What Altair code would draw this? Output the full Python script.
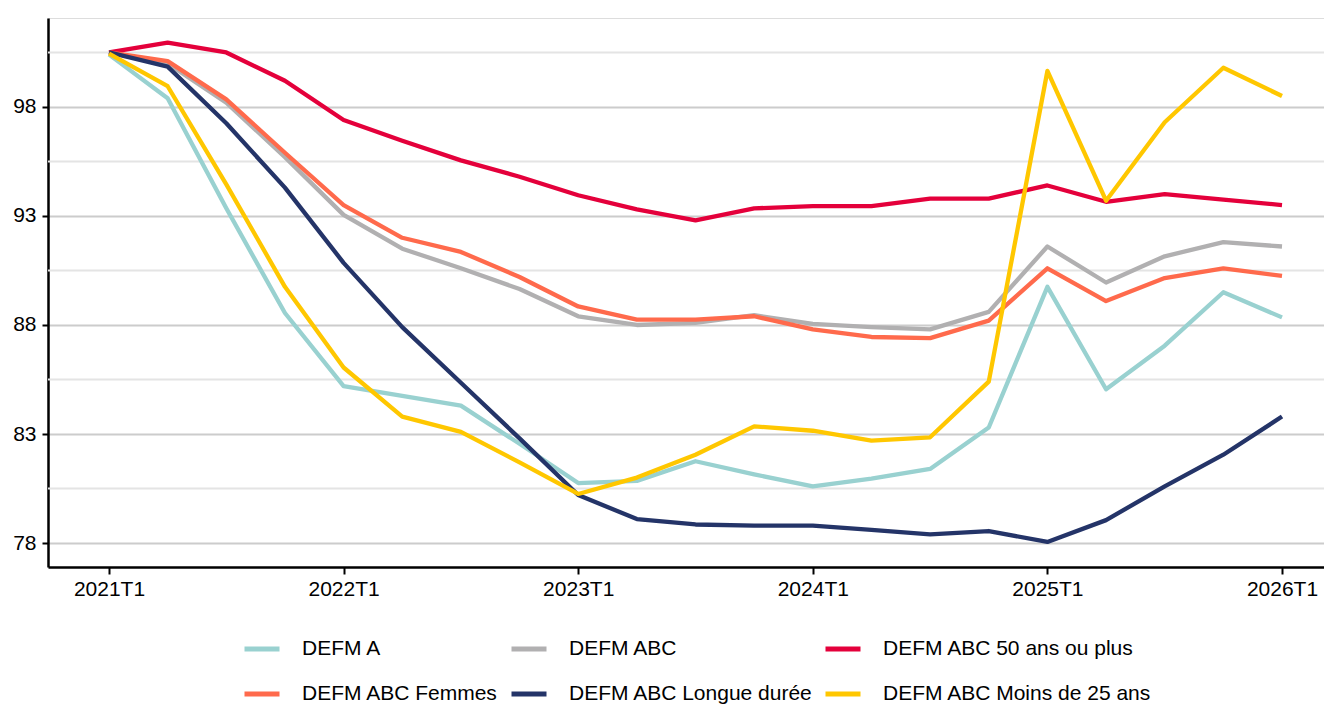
import altair as alt
import pandas as pd

quarters = ["2021T1", "2021T2", "2021T3", "2021T4",
            "2022T1", "2022T2", "2022T3", "2022T4",
            "2023T1", "2023T2", "2023T3", "2023T4",
            "2024T1", "2024T2", "2024T3", "2024T4",
            "2025T1", "2025T2", "2025T3", "2025T4",
            "2026T1"]

defm_a = [100.4, 98.4, 93.35, 88.55, 85.2, 84.75, 84.3, 82.55, 80.75, 80.85, 81.75,
          81.15, 80.6, 80.95, 81.4, 83.3, 89.75, 85.05, 87.05, 89.5, 88.35]
defm_abc = [100.5, 100.0, 98.2, 95.7, 93.05, 91.5, 90.6, 89.65, 88.4, 88.0, 88.1,
            88.45, 88.05, 87.9, 87.8, 88.6, 91.6, 89.95, 91.15, 91.8, 91.6]
defm_50 = [100.5, 100.95, 100.5, 99.2, 97.4, 96.45, 95.55, 94.8, 93.95, 93.3, 92.8,
           93.35, 93.45, 93.45, 93.8, 93.8, 94.4, 93.65, 94.0, 93.75, 93.5]
defm_femmes = [100.5, 100.1, 98.35, 95.9, 93.5, 92.0, 91.35, 90.2, 88.85, 88.25, 88.25,
               88.4, 87.8, 87.45, 87.4, 88.2, 90.6, 89.1, 90.15, 90.6, 90.25]
defm_longue = [100.5, 99.85, 97.25, 94.3, 90.85, 87.9, 85.35, 82.8, 80.2, 79.1, 78.85,
               78.8, 78.8, 78.6, 78.4, 78.55, 78.05, 79.05, 80.6, 82.05, 83.8]
defm_moins25 = [100.45, 98.95, 94.45, 89.75, 86.05, 83.8, 83.1, 81.7, 80.25, 81.0, 82.05,
                83.35, 83.15, 82.7, 82.85, 85.4, 99.65, 93.7, 97.3, 99.8, 98.5]

series_names = ["DEFM A", "DEFM ABC", "DEFM ABC 50 ans ou plus",
                "DEFM ABC Femmes", "DEFM ABC Longue durée", "DEFM ABC Moins de 25 ans"]
series_values = [defm_a, defm_abc, defm_50, defm_femmes, defm_longue, defm_moins25]
series_colors = ["#99d1d0", "#b1b0b1", "#e4003b", "#ff6a4c", "#243468", "#ffc700"]

major_ticks = [78, 83, 88, 93, 98]
minor_lines = [80.5, 85.5, 90.5, 95.5, 100.5]
x_ticks = [0, 4, 8, 12, 16, 20]

rows = []
for name, vals in zip(series_names, series_values):
    for i, v in enumerate(vals):
        rows.append({"serie": name, "idx": i, "trimestre": quarters[i], "valeur": v})
df = pd.DataFrame(rows)
minor_df = pd.DataFrame({"y": minor_lines})

label_array = "[" + ",".join("'" + q + "'" for q in quarters) + "]"

FONT = "Liberation Sans"
x_scale = alt.Scale(domain=[-1.04, 20.716], nice=False, zero=False)
y_scale = alt.Scale(domain=[76.9, 102.08], nice=False, zero=False)

minor = alt.Chart(minor_df).mark_rule(color="#e4e4e4", strokeWidth=2).encode(
    y=alt.Y("y:Q", scale=y_scale)
)

lines = alt.Chart(df).mark_line(strokeWidth=4.3, strokeJoin="round", strokeCap="butt").encode(
    x=alt.X("idx:Q", scale=x_scale, title=None,
            axis=alt.Axis(values=x_ticks, labelExpr=label_array + "[datum.value]",
                          grid=False, domainColor="black", domainWidth=2.5,
                          tickColor="black", tickWidth=2, tickSize=7,
                          labelFontSize=21, labelColor="black", labelPadding=4,
                          labelFont=FONT)),
    y=alt.Y("valeur:Q", scale=y_scale, title=None,
            axis=alt.Axis(values=major_ticks, grid=True, gridColor="#cccccc", gridWidth=2,
                          domainColor="black", domainWidth=2.5,
                          tickColor="black", tickWidth=2, tickSize=6,
                          labelFontSize=21, labelColor="black", labelPadding=6,
                          labelFont=FONT)),
    color=alt.Color("serie:N",
                    scale=alt.Scale(domain=series_names, range=series_colors),
                    legend=alt.Legend(title=None, orient="none", legendX=194, legendY=611,
                                      columns=3, direction="horizontal",
                                      symbolType="stroke", symbolSize=1225,
                                      symbolStrokeWidth=5, labelFontSize=21,
                                      labelFont=FONT, labelColor="black",
                                      labelLimit=600,
                                      labelOffset=20, columnPadding=2, rowPadding=15,
                                      padding=0)),
    detail="serie:N",
)

chart = alt.layer(minor, lines).properties(
    width=1276, height=549,
    autosize=alt.AutoSizeParams(type="none"),
    padding={"left": 40, "top": 10, "right": 0, "bottom": 140},
).configure_view(stroke=None).configure(background="white")

chart.save("out.html", embed_options={"renderer": "svg", "actions": False})
